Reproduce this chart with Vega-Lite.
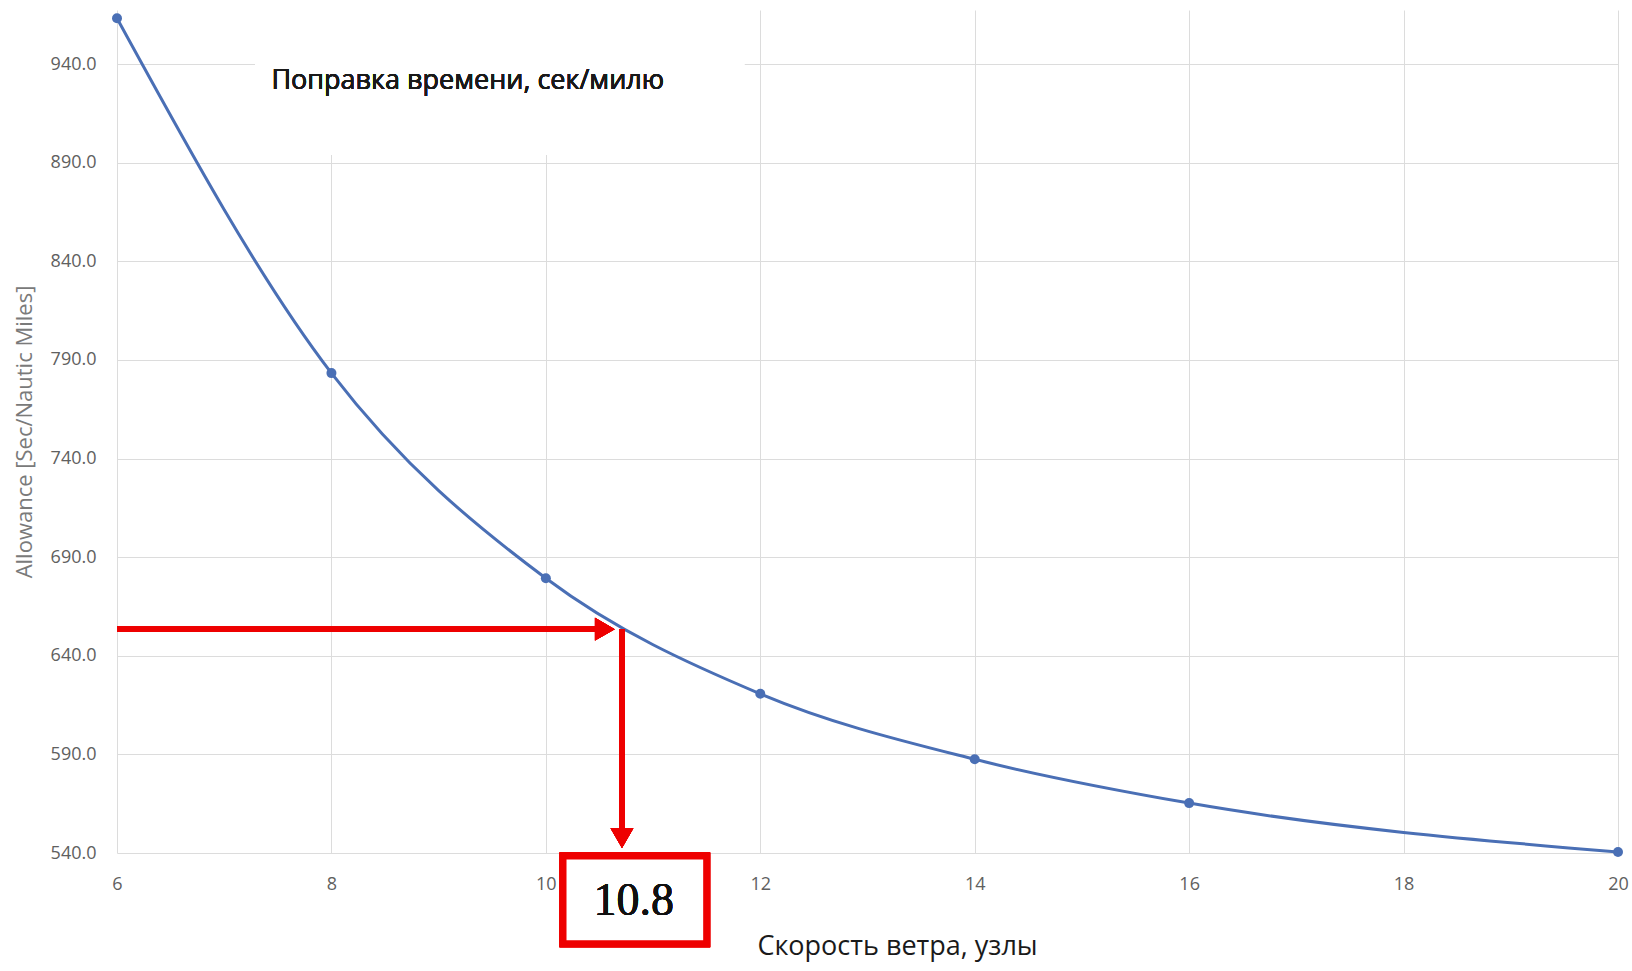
{
  "$schema": "https://vega.github.io/schema/vega-lite/v6.json",
  "width": 1501,
  "height": 843,
  "autosize": "none",
  "padding": {"left": 117, "top": 10, "right": 14, "bottom": 118},
  "background": "white",
  "config": {
    "view": {"stroke": null},
    "axis": {"grid": true, "gridColor": "#dcdcdc", "gridWidth": 1, "domain": false, "ticks": false,
      "labelFont": "Open Sans", "labelFontSize": 18, "labelColor": "#606060",
      "titleFont": "Open Sans", "titleFontWeight": "normal"}
  },
  "data": {"values": [
    {"speed": 6, "allowance": 963.2},
    {"speed": 8, "allowance": 783.3},
    {"speed": 10, "allowance": 679.3},
    {"speed": 12, "allowance": 620.7},
    {"speed": 14, "allowance": 587.5},
    {"speed": 16, "allowance": 565.3},
    {"speed": 20, "allowance": 540.5}
  ]},
  "encoding": {
    "x": {"field": "speed", "type": "quantitative",
      "scale": {"domain": [6, 20], "nice": false, "zero": false},
      "axis": {"values": [6, 8, 10, 12, 14, 16, 18, 20], "labelPadding": 22, "labelFlush": false,
        "title": "Скорость ветра, узлы", "titleFontSize": 27, "titleColor": "#1a1a1a",
        "titlePadding": 40, "titleX": 780}},
    "y": {"field": "allowance", "type": "quantitative",
      "scale": {"domain": [540, 967.4], "nice": false, "zero": false},
      "axis": {"values": [540, 590, 640, 690, 740, 790, 840, 890, 940], "format": ".1f",
        "labelPadding": 21, "labelFlush": false, "title": "Allowance [Sec/Nautic Miles]", "titleFontSize": 22,
        "titleColor": "#7a7a7a", "titlePadding": 14}}
  },
  "layer": [
    {"mark": {"type": "rect", "fill": "white"},
      "encoding": {"x": {"datum": 7.29}, "x2": {"datum": 11.85}, "y": {"datum": 894}, "y2": {"datum": 967.4}}},
    {"mark": {"type": "text", "text": "Поправка времени, сек/милю", "align": "left", "baseline": "middle",
      "font": "Open Sans", "fontSize": 27, "color": "#1a1a1a"},
      "encoding": {"x": {"datum": 7.44}, "y": {"datum": 931.6}}},
    {"mark": {"type": "line", "interpolate": "monotone", "color": "#4a6fb5", "strokeWidth": 3}},
    {"mark": {"type": "point", "filled": true, "color": "#4a6fb5", "size": 100, "opacity": 1}},
    {"mark": {"type": "rule", "color": "#ee0000", "strokeWidth": 5.5},
      "encoding": {"x": {"datum": 6}, "x2": {"datum": 10.5}, "y": {"datum": 653.5}}},
    {"mark": {"type": "point", "shape": "triangle-right", "filled": true, "color": "#ee0000", "size": 520, "opacity": 1},
      "encoding": {"x": {"datum": 10.55}, "y": {"datum": 653.5}}},
    {"mark": {"type": "rule", "color": "#ee0000", "strokeWidth": 5.5},
      "encoding": {"x": {"datum": 10.71}, "y": {"datum": 653.5}, "y2": {"datum": 552}}},
    {"mark": {"type": "point", "shape": "triangle-down", "filled": true, "color": "#ee0000", "size": 520, "opacity": 1},
      "encoding": {"x": {"datum": 10.71}, "y": {"datum": 547.5}}},
    {"mark": {"type": "rect", "fill": "white", "stroke": "#ee0000", "strokeWidth": 7},
      "encoding": {"x": {"datum": 10.16}, "x2": {"datum": 11.5}, "y": {"datum": 538.5}, "y2": {"datum": 494}}},
    {"mark": {"type": "text", "text": "10.8", "align": "center", "baseline": "middle",
      "font": "Liberation Serif", "fontSize": 46, "color": "#111111"},
      "encoding": {"x": {"datum": 10.82}, "y": {"datum": 515.5}}}
  ]
}
